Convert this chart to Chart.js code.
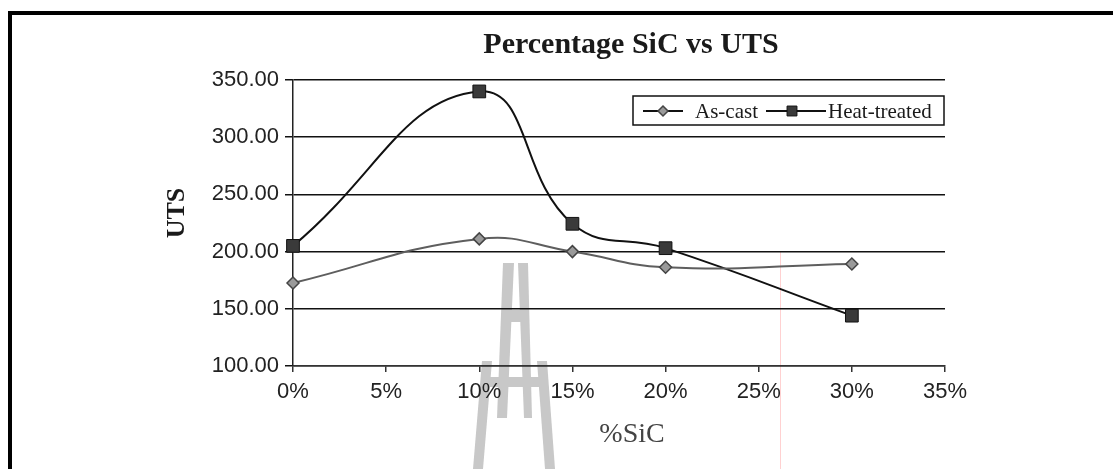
<!DOCTYPE html>
<html>
<head>
<meta charset="utf-8">
<title>Percentage SiC vs UTS</title>
<script src="https://cdn.jsdelivr.net/npm/chart.js@4.4.1/dist/chart.umd.min.js"></script>
<style>
  html, body { margin: 0; padding: 0; background: #fff; }
  #wrap { position: relative; width: 1113px; height: 469px; }
</style>
</head>
<body>
<div id="wrap"><canvas id="c" width="1113" height="469"></canvas></div>
<script>
// SiC content (%) of each specimen
const sicPercent = [0, 10, 15, 20, 30];
// Ultimate tensile strength per specimen
const utsAsCast = [172.6, 211.1, 200.0, 186.3, 189.2];
const utsHeatTreated = [205.0, 340.0, 224.3, 203.0, 144.0];
// Axis ranges and titles
const yTicks = [100, 150, 200, 250, 300, 350];
const xTicks = [0, 5, 10, 15, 20, 25, 30, 35];
const seriesNames = ['As-cast', 'Heat-treated'];
const chartTitle = 'Percentage SiC vs UTS';
const xTitle = '%SiC';
const yTitle = 'UTS';

const SERIF = '"Liberation Serif", "Times New Roman", serif';
const SANS = '"Liberation Sans", Arial, sans-serif';

function toPoints(xs, ys) { return xs.map((x, i) => ({ x: x, y: ys[i] })); }

// Frame, watermark and faint guide line painted beneath everything else
const backdrop = {
  id: 'backdrop',
  beforeDraw(chart) {
    const ctx = chart.ctx;
    ctx.save();
    ctx.fillStyle = '#fff';
    ctx.fillRect(0, 0, chart.width, chart.height);
    // frame
    ctx.fillStyle = '#000';
    ctx.fillRect(8, 11, chart.width - 8, 4);
    ctx.fillRect(8, 11, 4, chart.height - 11);
    // watermark
    ctx.fillStyle = '#c8c8c8';
    const polys = [
      [[503,263],[514,263],[507,418],[497,418]],
      [[518,263],[528,263],[532,418],[524,418]],
      [[511,310],[522,310],[522,322],[510,322]],
      [[482,361],[492,361],[483,469],[473,469]],
      [[537,361],[547,361],[555,469],[545,469]],
      [[490,377],[540,377],[541,387],[489,387]]
    ];
    polys.forEach(p => {
      ctx.beginPath();
      ctx.moveTo(p[0][0], p[0][1]);
      for (let i = 1; i < p.length; i++) ctx.lineTo(p[i][0], p[i][1]);
      ctx.closePath();
      ctx.fill();
    });
    // faint red guide
    ctx.fillStyle = 'rgba(255,140,140,0.4)';
    ctx.fillRect(780, 252, 1, chart.height - 252);
    ctx.restore();
  }
};

function drawMarker(ctx, style, x, y, ds) {
  ctx.save();
  ctx.fillStyle = ds.pointBackgroundColor;
  ctx.strokeStyle = ds.pointBorderColor;
  ctx.lineWidth = ds.pointBorderWidth;
  ctx.beginPath();
  if (style === 'rectRot') {
    const r = ds.pointRadius;
    ctx.moveTo(x, y - r); ctx.lineTo(x + r, y); ctx.lineTo(x, y + r); ctx.lineTo(x - r, y);
  } else {
    const s = ds.pointRadius * Math.SQRT1_2;
    ctx.rect(x - s, y - s, 2 * s, 2 * s);
  }
  ctx.closePath();
  ctx.fill();
  ctx.stroke();
  ctx.restore();
}

// Titles and boxed legend
const annotations = {
  id: 'annotations',
  afterDraw(chart) {
    const ctx = chart.ctx;
    ctx.save();
    ctx.fillStyle = '#1a1a1a';
    ctx.textAlign = 'center';
    ctx.textBaseline = 'middle';
    ctx.font = 'bold 30px ' + SERIF;
    ctx.fillText(chartTitle, 631, 45);
    ctx.fillStyle = '#444';
    ctx.font = '28px ' + SERIF;
    ctx.fillText(xTitle, 632, 435);
    ctx.fillStyle = '#1a1a1a';
    ctx.save();
    ctx.translate(177, 213);
    ctx.rotate(-Math.PI / 2);
    ctx.font = 'bold 26px ' + SERIF;
    ctx.fillText(yTitle, 0, 0);
    ctx.restore();

    // legend
    ctx.fillStyle = '#fff';
    ctx.fillRect(633, 96, 311, 29);
    ctx.strokeStyle = '#111';
    ctx.lineWidth = 1.5;
    ctx.strokeRect(633, 96, 311, 29);
    const ly = 111;
    const items = [
      { ds: chart.data.datasets[0], x0: 643, x1: 683, mx: 663, tx: 695 },
      { ds: chart.data.datasets[1], x0: 766, x1: 826, mx: 792, tx: 828 }
    ];
    items.forEach(it => {
      ctx.strokeStyle = '#111';
      ctx.lineWidth = 2;
      ctx.beginPath();
      ctx.moveTo(it.x0, ly); ctx.lineTo(it.x1, ly);
      ctx.stroke();
      const legendDs = Object.assign({}, it.ds, { pointRadius: it.ds.pointStyle === 'rect' ? 7 : 5 });
      drawMarker(ctx, it.ds.pointStyle, it.mx, ly, legendDs);
      ctx.fillStyle = '#1a1a1a';
      ctx.textAlign = 'left';
      ctx.font = '21px ' + SERIF;
      ctx.fillText(it.ds.label, it.tx, ly + 1);
    });
    ctx.restore();
  }
};

new Chart(document.getElementById('c'), {
  type: 'line',
  data: {
    datasets: [
      {
        label: seriesNames[0],
        data: toPoints(sicPercent, utsAsCast),
        borderColor: '#5e5e5e',
        borderWidth: 2,
        tension: 0.45,
        pointStyle: 'rectRot',
        pointRadius: 6,
        pointBackgroundColor: '#9a9a9a',
        pointBorderColor: '#444',
        pointBorderWidth: 1.5,
        clip: false
      },
      {
        label: seriesNames[1],
        data: toPoints(sicPercent, utsHeatTreated),
        borderColor: '#111',
        borderWidth: 2,
        tension: 0.45,
        pointStyle: 'rect',
        pointRadius: 9,
        pointBackgroundColor: '#3a3a3a',
        pointBorderColor: '#111',
        pointBorderWidth: 1,
        clip: false
      }
    ]
  },
  options: {
    responsive: false,
    animation: false,
    devicePixelRatio: 1,
    layout: { padding: { left: 0, top: 80, right: 168, bottom: 0 } },
    plugins: {
      legend: { display: false },
      title: { display: false },
      tooltip: { enabled: false }
    },
    scales: {
      x: {
        type: 'linear',
        min: xTicks[0],
        max: xTicks[xTicks.length - 1],
        afterBuildTicks(scale) { scale.ticks = xTicks.map(v => ({ value: v })); },
        afterFit(scale) { scale.height = 103; },
        ticks: {
          callback: v => v + '%',
          color: '#222',
          padding: 7,
          maxRotation: 0,
          font: { family: SANS, size: 22 }
        },
        grid: { drawOnChartArea: false, drawTicks: true, tickLength: 6, color: '#333', lineWidth: 1.5 },
        border: { display: true, color: '#333', width: 1.5 }
      },
      y: {
        type: 'linear',
        min: yTicks[0],
        max: yTicks[yTicks.length - 1],
        afterBuildTicks(scale) { scale.ticks = yTicks.map(v => ({ value: v })); },
        afterFit(scale) { scale.width = 293; },
        ticks: {
          callback: v => Number(v).toFixed(2),
          color: '#222',
          padding: 6,
          font: { family: SANS, size: 22 }
        },
        grid: { color: '#111', lineWidth: 1.5, drawTicks: true, tickLength: 8 },
        border: { display: true, color: '#222', width: 1.5 }
      }
    }
  },
  plugins: [backdrop, annotations]
});
</script>
</body>
</html>
